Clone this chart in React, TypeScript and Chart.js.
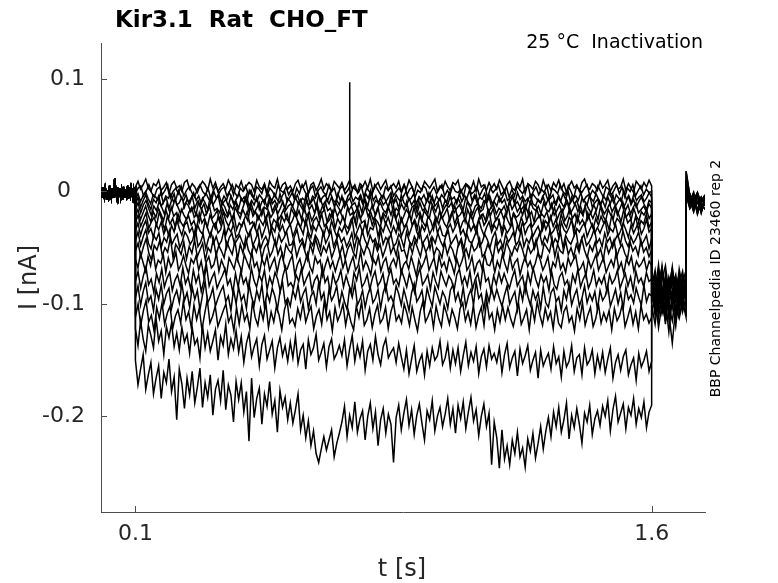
import { useEffect, useRef } from "react"
import { Chart, registerables } from "chart.js"

Chart.register(...registerables)

const PRE_DT = 0.0025
const STEP_START = 0.1
const STEP_END = 1.6
const TAIL_START = 1.6
const TAIL_DT = 0.01
const END_START = 1.7
const END_DT = 0.011

const xTicks = [0.1, 1.6]
const yTicks = [-0.2, -0.1, 0, 0.1]

// holding current before the step (pA), shared by all sweeps
const baseline = [2, -5, 4, -3, -6, 3, -1, -7, 1, -4, 5, -2, -6, 3, -5, 0, 12, 2, -4, 4, -6, -1, 3, -5, 1, -7, 4, -2, -5, 2, -3, 5, -6, 0, -4, 3, -2, -6, 2, -3, 0]

// current during the conditioning step 0.1-1.6 s (pA), one array per sweep, evenly sampled
const sweep01 = [
  4, 9, 2, 6, 11, 3, 0, 7, 5, 10, 1, 4, 8, -2, 6, 9, 3, 5, 0, 8,
  10, 2, 7, 4, -1, 5, 9, 6, 1, 11, 3, 8, 0, 4, 7, 2, 10, 5, -3, 6,
  3, 9, 1, 5, 8, 6, 0, 10, 4, 2, 7, -1, 9, 5, 3, 11, 1, 6, 8, 2,
  5, 0, 7, 10, 3, 4, 9, -2, 6, 8, 1, 5, 11, 2, 7, 4, 0, 9, 6, 3,
  8, 1, 5, 10, 2, 6, -1, 7, 4, 9, 3, 11, 0, 5, 8, 2, 6, 10, 1, 4,
  7, 3, 9, 0, 6, 2, 10, 5, -2, 8, 4, 1, 9, 6, 3, 7, 11, 0, 5, 2,
  9, 4, 1, 8, 6, 10, -1, 3, 7, 5, 2, 9, 0, 11, 4, 6, 1, 8, 3, 7,
  2, 10, 5, 0, 6, 9, 3, 1, 8, 4, 11, -2, 7, 5, 2, 9, 6, 0, 10, 3,
  6, 1, 8, 4, 10, 2, 7, -1, 5, 9, 3, 6, 0, 8, 11, 4, 2, 7, 5, 1,
  9, 3, 6, 10, 0, 5, 8, 2, 4, 11, 1, 7, 3, -1, 9, 6, 2, 8, 4, 10,
  5,
]
const sweep02 = [
  -2, 3, 5, -4, 0, 6, -1, -5, 2, 4, -3, 1, 6, -6, 0, 3, -2, 5, -4, 1,
  4, -1, -5, 2, 6, 0, -3, 3, -6, 1, 5, -2, 2, 4, -4, 0, 6, -1, -5, 3,
  0, 5, -3, 1, -6, 4, 2, -2, 6, -4, 3, 0, -5, 5, 1, -1, 4, -3, 2, -6,
  3, -2, 6, 0, -4, 2, 5, -5, 1, 4, -1, -3, 6, 0, 3, -6, 2, 5, -2, 1,
  -4, 4, 1, -1, 5, -5, 3, 0, -3, 6, 2, -2, -6, 4, 1, 5, -4, 0, 3, -1,
  6, -3, 2, 4, -5, 1, -1, 5, 3, -6, 0, 4, -2, 2, 6, -4, 1, -3, 5, 0,
  -1, 2, -5, 6, 3, -2, 0, 4, -4, 1, 5, -6, 3, -1, 2, 6, -3, 0, 4, -5,
  2, -4, 5, 1, -2, 3, 6, -5, 0, 4, -3, 2, -1, 5, -6, 3, 1, -2, 6, 0,
  -3, 5, 0, -6, 4, 2, -1, 3, 6, -4, 1, -2, 5, 0, -5, 4, 2, -3, 1, 6,
  -2, 4, -5, 3, 0, 6, -4, 1, 5, -3, 2, -1, 0,
]
const sweep03 = [
  -7, -2, -9, -4, 0, -6, -11, -3, -5, -8, -1, -10, -4, -6, -2, -9, -7, 1, -5, -8,
  -3, -10, -6, -1, -8, -4, -11, -5, -2, -7, -9, 0, -6, -3, -10, -4, -8, -1, -5, -11,
  -6, -2, -8, -5, -10, 1, -4, -7, -9, -3, -6, -11, -1, -5, -8, -2, -7, -10, -4, 0,
  -9, -5, -1, -7, -3, -10, -6, -8, -2, -11, -4, -6, 0, -9, -5, -3, -8, -1, -7, -10,
  -2, -8, -6, -11, -4, -1, -9, -5, -7, -3, -10, -2, -6, 1, -8, -4, -11, -5, -3, -9,
  -5, -1, -10, -3, -7, -9, -4, 0, -8, -6, -2, -11, -5, -7, -3, -9, -1, -6, -10, -4,
  -8, -3, -6, -10, -1, -7, -5, -11, -2, -9, -4, -6, 1, -8, -3, -10, -5, -7, -2, -9,
  -4, -11, -7, -2, -9, -5, 0, -8, -6, -3, -10, -1, -7, -4, -9, -6, -11, -2, -5, -8,
  -10, -4, -1, -8, -6, -3, -11, -5, -9, -2, -7, 0, -10, -6, -4, -8, -1, -9, -5, -3,
  -6, -9, -2, -7, -11, -4, -8, -1, -5, -10, -3, -6, -9, 1, -7, -4, -10, -2, -8, -5,
  -3, -9, -6, -1, -5,
]
const sweep04 = [
  -12, -5, -14, -8, -3, -11, -16, -7, -10, -4, -13, -9, -6, -15, -8, -2, -12, -10, -5, -14,
  -7, -11, -4, -15, -9, -13, -6, -10, -16, -5, -12, -8, -3, -14, -10, -7, -13, -4, -11, -9,
  -15, -6, -10, -3, -13, -8, -12, -5, -16, -9, -7, -14, -4, -11, -8, -13, -2, -10, -15, -6,
  -9, -13, -5, -11, -7, -15, -4, -12, -10, -6, -14, -3, -9, -16, -7, -11, -5, -13, -8, -12,
  -4, -14, -9, -6, -12, -10, -16, -5, -11, -7, -13, -3, -15, -8, -10, -6, -12, -9, -14, -4,
  -11, -7, -15, -3, -10, -13, -6, -12, -8, -16, -5, -9, -14, -7, -11, -4, -13, -10, -6, -15,
  -8, -12, -4, -14, -9, -6, -11, -16, -5, -10, -13, -7, -3, -12, -15, -8, -10, -5, -14, -9,
  -13, -5, -10, -7, -15, -11, -4, -12, -9, -14, -6, -16, -8, -3, -11, -13, -7, -10, -5, -12,
  -6, -15, -9, -12, -4, -10, -14, -7, -13, -5, -11, -8, -16, -6, -9, -12, -3, -14, -10, -7,
  -12, -8, -14, -5, -11, -3, -13, -9, -6, -15, -10, -4, -12, -7, -14, -9, -5, -11, -16, -8,
  -10,
]
const sweep05 = [
  -16, -10, -19, -12, -8, -15, -21, -13, -17, -9, -14, -20, -11, -18, -15, -7, -13, -19, -16, -10,
  -12, -18, -14, -21, -9, -16, -11, -20, -13, -8, -17, -15, -19, -10, -14, -21, -12, -16, -9, -18,
  -20, -13, -7, -17, -11, -19, -15, -10, -21, -14, -16, -8, -18, -12, -20, -15, -9, -17, -13, -11,
  -15, -21, -10, -14, -18, -8, -16, -12, -19, -11, -20, -13, -9, -17, -15, -21, -10, -14, -18, -12,
  -9, -17, -13, -20, -16, -11, -19, -7, -15, -18, -12, -21, -14, -10, -16, -19, -13, -8, -20, -15,
  -18, -11, -16, -9, -21, -14, -12, -19, -10, -17, -15, -20, -8, -13, -18, -11, -21, -16, -12, -14,
  -10, -19, -15, -12, -17, -21, -9, -14, -20, -13, -11, -18, -16, -7, -19, -14, -12, -20, -15, -17,
  -13, -20, -8, -16, -11, -18, -14, -21, -12, -19, -9, -15, -17, -13, -20, -10, -16, -18, -11, -21,
  -17, -12, -19, -14, -9, -20, -16, -11, -18, -13, -21, -10, -15, -19, -12, -17, -8, -14, -20, -16,
  -11, -18, -13, -21, -15, -9, -17, -12, -20, -14, -10, -19, -16, -13, -18, -11, -15,
]
const sweep06 = [
  -22, -16, -25, -19, -13, -21, -27, -18, -23, -15, -20, -26, -17, -24, -14, -22, -19, -27, -16, -21,
  -25, -18, -14, -23, -20, -27, -16, -22, -19, -13, -24, -21, -17, -26, -15, -20, -23, -18, -27, -14,
  -19, -24, -16, -21, -26, -13, -22, -18, -25, -20, -15, -27, -17, -23, -19, -14, -25, -21, -16, -24,
  -27, -15, -20, -23, -17, -25, -14, -22, -18, -26, -21, -13, -24, -19, -16, -27, -20, -23, -15, -22,
  -17, -23, -26, -14, -21, -19, -27, -16, -24, -20, -13, -22, -18, -25, -21, -15, -26, -19, -23, -14,
  -21, -13, -24, -18, -27, -22, -16, -20, -25, -14, -23, -19, -26, -17, -21, -24, -13, -20, -27, -18,
  -24, -20, -15, -26, -19, -13, -23, -21, -17, -27, -16, -22, -25, -18, -14, -24, -20, -26, -16, -21,
  -15, -26, -22, -17, -24, -20, -14, -27, -19, -23, -21, -16, -13, -25, -22, -18, -27, -15, -23, -20,
  -23, -18, -27, -21, -14, -25, -19, -16, -26, -22, -15, -24, -20, -27, -17, -21, -13, -25, -19, -24,
  -18, -25, -13, -22, -26, -16, -21, -24, -14, -20, -27, -17, -23, -19, -25, -15, -22, -26, -18, -21,
  -16, -24, -20,
]
const sweep07 = [
  -28, -21, -31, -25, -19, -33, -27, -23, -30, -18, -26, -34, -22, -29, -24, -32, -20, -27, -31, -25,
  -22, -30, -26, -34, -19, -28, -24, -32, -21, -27, -33, -23, -29, -18, -26, -31, -25, -20, -34, -28,
  -31, -24, -18, -29, -27, -33, -21, -26, -30, -23, -19, -32, -25, -28, -34, -22, -27, -20, -30, -26,
  -19, -27, -32, -24, -30, -21, -34, -26, -23, -29, -20, -31, -28, -25, -18, -33, -24, -29, -22, -30,
  -33, -25, -22, -31, -18, -28, -26, -34, -20, -30, -24, -27, -32, -21, -29, -23, -31, -19, -26, -34,
  -24, -32, -28, -20, -30, -25, -33, -19, -27, -31, -22, -26, -34, -23, -29, -21, -28, -32, -24, -18,
  -29, -22, -34, -27, -24, -31, -19, -28, -33, -25, -21, -30, -26, -18, -32, -27, -23, -29, -34, -20,
  -26, -31, -20, -25, -33, -23, -30, -27, -18, -32, -28, -24, -21, -34, -26, -29, -22, -31, -25, -33,
  -20, -28, -32, -23, -26, -34, -21, -29, -25, -31, -19, -27, -33, -24, -30, -22, -28, -26, -34, -21,
  -30, -24, -27, -33, -19, -28, -25, -31, -22, -34, -26, -29, -20, -32, -27,
]
const sweep08 = [
  -35, -28, -39, -31, -26, -37, -33, -41, -29, -34, -27, -38, -32, -40, -30, -36, -25, -33, -39, -30,
  -27, -36, -32, -41, -29, -35, -38, -26, -33, -40, -31, -28, -37, -34, -25, -39, -32, -36, -29, -41,
  -38, -31, -26, -35, -40, -33, -28, -37, -30, -41, -34, -27, -39, -32, -36, -25, -35, -30, -38, -33,
  -29, -40, -34, -27, -32, -38, -25, -36, -41, -31, -35, -28, -33, -39, -30, -37, -26, -34, -40, -32,
  -36, -30, -38, -33, -25, -41, -35, -29, -37, -27, -39, -32, -34, -26, -40, -31, -36, -28, -33, -38,
  -31, -37, -27, -40, -34, -29, -39, -32, -26, -36, -41, -30, -35, -28, -38, -33, -25, -37, -31, -39,
  -40, -33, -29, -36, -31, -26, -38, -34, -41, -28, -35, -30, -37, -25, -33, -39, -32, -27, -36, -30,
  -34, -26, -39, -31, -37, -33, -28, -41, -30, -36, -27, -38, -32, -29, -40, -35, -31, -38, -26, -34,
  -28, -38, -35, -30, -41, -27, -34, -37, -32, -25, -39, -33, -36, -31, -28, -40, -34, -29, -37, -32,
  -37, -31, -26, -39, -33, -36, -29, -40, -35, -28, -34, -41, -30, -37, -32, -27, -38, -33, -25, -36,
  -33,
]
const sweep09 = [
  -44, -36, -48, -40, -34, -46, -51, -39, -43, -37, -49, -41, -45, -35, -47, -42, -38, -50, -44, -36,
  -40, -47, -43, -33, -49, -45, -38, -51, -42, -36, -46, -40, -48, -44, -34, -50, -41, -37, -47, -43,
  -39, -45, -50, -41, -35, -48, -43, -37, -51, -44, -40, -46, -33, -42, -49, -38, -45, -41, -36, -48,
  -47, -40, -34, -45, -42, -50, -37, -44, -48, -39, -43, -51, -36, -46, -41, -35, -49, -43, -38, -45,
  -41, -49, -44, -37, -51, -40, -46, -35, -43, -48, -39, -45, -42, -50, -34, -47, -41, -44, -38, -49,
  -46, -38, -42, -50, -36, -44, -48, -40, -45, -33, -47, -43, -39, -51, -41, -46, -37, -44, -49, -40,
  -35, -47, -43, -39, -48, -42, -51, -37, -44, -46, -40, -34, -49, -45, -38, -43, -50, -41, -36, -47,
  -43, -50, -38, -45, -41, -36, -48, -44, -34, -49, -42, -46, -39, -51, -44, -37, -47, -40, -45, -35,
  -48, -42, -46, -36, -50, -39, -44, -47, -41, -35, -51, -43, -38, -48, -45, -40, -33, -46, -42, -49,
  -37, -45, -41, -50, -43, -38, -47, -35, -44, -49, -40, -46, -42, -36, -48, -44, -39, -51, -42,
]
const sweep10 = [
  -53, -46, -58, -49, -42, -55, -61, -48, -52, -44, -57, -50, -54, -41, -59, -47, -51, -56, -45, -60,
  -49, -55, -43, -58, -52, -46, -61, -50, -54, -42, -57, -48, -53, -59, -45, -51, -56, -44, -60, -47,
  -55, -41, -52, -57, -48, -54, -45, -60, -50, -46, -58, -53, -43, -56, -49, -61, -47, -52, -55, -44,
  -58, -50, -45, -53, -61, -47, -55, -42, -51, -57, -49, -54, -46, -59, -52, -44, -56, -48, -60, -51,
  -46, -54, -59, -43, -50, -56, -48, -52, -61, -45, -53, -47, -58, -51, -42, -55, -49, -57, -44, -53,
  -52, -60, -47, -55, -44, -51, -58, -46, -54, -49, -41, -57, -50, -53, -59, -45, -56, -48, -52, -61,
  -48, -43, -56, -51, -59, -46, -53, -50, -42, -58, -55, -47, -52, -60, -44, -54, -49, -57, -45, -51,
  -57, -49, -53, -45, -52, -61, -48, -55, -51, -43, -56, -59, -46, -50, -54, -42, -58, -47, -53, -55,
  -44, -56, -50, -58, -47, -54, -42, -52, -59, -48, -53, -45, -57, -51, -61, -46, -55, -49, -43, -58,
  -51, -47, -55, -60, -45, -53, -49, -57, -43, -54, -50, -58, -52,
]
const sweep11 = [
  -60, -68, -55, -63, -71, -58, -66, -53, -69, -61, -64, -56, -72, -59, -67, -62, -54, -70, -65, -57,
  -66, -73, -60, -64, -57, -70, -62, -75, -63, -58, -68, -65, -55, -71, -61, -67, -74, -59, -64, -69,
  -58, -65, -71, -56, -62, -68, -54, -67, -63, -73, -60, -66, -57, -70, -64, -59, -72, -61, -55, -68,
  -69, -62, -57, -74, -65, -60, -70, -63, -55, -67, -72, -58, -64, -61, -75, -66, -59, -68, -62, -71,
  -63, -56, -68, -61, -72, -64, -58, -70, -66, -53, -69, -62, -67, -74, -60, -65, -57, -71, -63, -59,
  -71, -64, -60, -67, -55, -73, -65, -62, -69, -58, -66, -75, -61, -68, -63, -56, -70, -64, -59, -72,
  -57, -67, -63, -71, -59, -65, -73, -60, -68, -62, -54, -70, -66, -58, -72, -64, -61, -69, -56, -65,
  -66, -59, -72, -62, -68, -56, -64, -71, -57, -69, -63, -60, -74, -65, -58, -67, -62, -70, -64, -55,
  -61, -70, -65, -58, -73, -63, -67, -55, -69, -64, -72, -59, -66, -61, -57, -71, -68, -63, -75, -60,
  -68, -62, -56, -70, -64, -59, -72, -66, -61, -67, -54, -69, -63, -73, -60, -65, -58, -71, -62, -67,
  -64, -59, -70, -62, -66,
]
const sweep12 = [
  -80, -71, -86, -75, -67, -83, -78, -90, -73, -81, -69, -85, -77, -72, -88, -79, -74, -84, -68, -82,
  -76, -87, -70, -81, -74, -89, -79, -66, -84, -77, -72, -86, -80, -75, -69, -83, -78, -90, -73, -85,
  -71, -82, -77, -88, -68, -79, -85, -74, -80, -70, -87, -76, -83, -72, -78, -89, -75, -67, -84, -81,
  -86, -74, -80, -69, -83, -77, -72, -88, -79, -75, -84, -67, -81, -76, -90, -73, -82, -78, -70, -85,
  -75, -83, -89, -72, -79, -68, -85, -81, -74, -87, -77, -71, -84, -80, -73, -88, -76, -69, -82, -78,
  -84, -70, -77, -85, -73, -81, -90, -76, -68, -83, -79, -74, -87, -72, -80, -86, -71, -78, -84, -75,
  -79, -88, -74, -69, -82, -76, -84, -71, -87, -78, -73, -85, -66, -80, -77, -89, -75, -83, -72, -81,
  -73, -80, -86, -77, -70, -84, -79, -75, -89, -72, -82, -68, -78, -85, -74, -81, -76, -88, -71, -83,
  -87, -76, -72, -83, -79, -90, -74, -81, -69, -85, -78, -73, -86, -80, -70, -84, -77, -82, -75, -89,
  -74, -82, -78, -70, -86, -79, -73, -84, -76, -88, -71, -81, -77, -85, -72, -80, -78,
]
const sweep13 = [
  -95, -84, -101, -89, -81, -98, -93, -106, -87, -96, -83, -100, -91, -86, -104, -94, -88, -99, -82, -97,
  -90, -103, -85, -96, -88, -105, -92, -80, -99, -94, -86, -102, -95, -89, -84, -98, -93, -106, -87, -100,
  -85, -97, -92, -104, -82, -94, -101, -88, -96, -83, -103, -90, -98, -86, -93, -105, -89, -81, -99, -95,
  -102, -88, -95, -83, -98, -91, -86, -104, -93, -89, -100, -81, -96, -90, -106, -87, -97, -92, -84, -101,
  -89, -98, -105, -86, -94, -82, -101, -96, -88, -103, -92, -85, -99, -95, -87, -104, -90, -83, -97, -93,
  -99, -84, -91, -101, -87, -96, -106, -90, -82, -98, -94, -88, -103, -86, -95, -102, -85, -92, -100, -89,
  -94, -104, -88, -83, -97, -90, -100, -85, -103, -93, -87, -101, -80, -95, -91, -105, -89, -98, -86, -96,
  -87, -95, -102, -92, -84, -100, -94, -89, -105, -86, -97, -82, -93, -101, -88, -96, -90, -104, -85, -99,
  -103, -90, -86, -98, -94, -106, -88, -96, -83, -101, -93, -87, -102, -95, -84, -99, -91, -97, -89, -105,
  -88, -97, -93, -84, -102, -95, -87, -100, -90, -104, -85, -96, -92, -99, -86, -94, -101, -83, -98, -91,
  -93,
]
const sweep14 = [
  -112, -100, -119, -106, -97, -116, -110, -124, -103, -113, -99, -118, -108, -102, -122, -111, -105, -117, -98, -114,
  -107, -121, -101, -114, -104, -123, -109, -96, -117, -111, -102, -120, -113, -106, -100, -116, -110, -124, -103, -118,
  -101, -115, -109, -122, -98, -112, -119, -104, -114, -99, -121, -107, -116, -102, -110, -123, -105, -97, -117, -113,
  -120, -104, -113, -99, -116, -108, -102, -122, -111, -105, -118, -97, -114, -107, -124, -103, -115, -109, -100, -119,
  -106, -116, -123, -102, -112, -98, -119, -114, -104, -121, -109, -101, -117, -113, -103, -122, -107, -99, -115, -110,
  -117, -100, -108, -119, -103, -114, -124, -107, -98, -116, -111, -104, -121, -102, -113, -120, -101, -109, -118, -105,
  -112, -122, -104, -99, -115, -107, -118, -101, -121, -110, -103, -119, -96, -113, -108, -123, -105, -116, -102, -114,
  -103, -113, -120, -109, -100, -118, -112, -105, -123, -102, -115, -98, -110, -119, -104, -114, -107, -122, -101, -117,
  -121, -107, -102, -116, -111, -124, -104, -114, -99, -119, -110, -103, -120, -113, -100, -117, -108, -115, -106, -123,
  -104, -115, -110, -100, -120, -112, -103, -118, -107, -122, -101, -114, -109, -117, -112,
]
const sweep15 = [
  -122, -137, -115, -131, -142, -119, -128, -139, -113, -133, -124, -145, -120, -130, -117, -138, -126, -141, -121, -134,
  -127, -144, -121, -136, -131, -148, -119, -139, -126, -142, -133, -123, -150, -129, -137, -118, -145, -131, -140, -124,
  -143, -129, -152, -135, -126, -147, -138, -131, -155, -136, -128, -149, -141, -133, -157, -139, -130, -146, -137, -151,
  -134, -148, -129, -153, -141, -136, -158, -132, -145, -139, -127, -150, -143, -135, -156, -138, -131, -149, -144, -137,
  -146, -132, -155, -140, -128, -151, -137, -147, -133, -159, -142, -136, -150, -129, -145, -154, -138, -131, -148, -143,
  -139, -152, -135, -147, -158, -141, -162, -149, -137, -160, -151, -145, -163, -142, -155, -139, -150, -146, -133, -154,
  -148, -136, -157, -141, -153, -139, -160, -146, -134, -155, -143, -151, -138, -162, -147, -140, -156, -137, -149, -144,
  -152, -139, -161, -145, -135, -157, -148, -142, -164, -140, -153, -146, -137, -159, -150, -143, -166, -141, -155, -149,
  -144, -158, -138, -153, -147, -165, -142, -156, -151, -137, -160, -148, -145, -163, -139, -154, -150, -141, -162, -146,
  -157, -143, -161, -149, -139, -166, -152, -145, -159, -147, -141, -163, -154, -148, -168, -144, -156, -150, -142, -160,
  -151,
]
const sweep16 = [
  -150, -172, -158, -145, -176, -163, -152, -180, -166, -155, -184, -161, -170, -149, -178, -165, -203, -158, -171, -193,
  -166, -181, -160, -188, -174, -157, -192, -170, -183, -163, -199, -176, -168, -186, -159, -194, -172, -181, -205, -169,
  -185, -170, -196, -178, -222, -166, -201, -184, -175, -207, -180, -191, -169, -198, -186, -214, -177, -192, -183, -203,
  -188, -206, -194, -180, -212, -199, -219, -204, -226, -213, -233, -241, -229, -218, -230, -221, -212, -236, -224, -215,
  -205, -191, -218, -199, -210, -187, -214, -202, -195, -221, -200, -188, -211, -196, -226, -203, -193, -215, -198, -207,
  -241, -201, -190, -212, -197, -185, -208, -194, -216, -199, -189, -206, -221, -195, -203, -186, -213, -200, -192, -209,
  -198, -184, -207, -193, -215, -190, -202, -187, -211, -196, -183, -204, -194, -217, -200, -189, -209, -197, -243, -205,
  -219, -246, -212, -238, -226, -243, -221, -233, -214, -236, -228, -245, -220, -231, -215, -237, -224, -209, -229, -213,
  -201, -218, -196, -209, -192, -214, -203, -188, -220, -199, -210, -193, -207, -224, -197, -205, -190, -216, -202, -195,
  -208, -191, -200, -186, -213, -194, -182, -205, -197, -189, -211, -192, -199, -184, -207, -193, -201, -187, -210, -196,
  -190,
]

const stepSweeps = [sweep01, sweep02, sweep03, sweep04, sweep05, sweep06, sweep07, sweep08, sweep09, sweep10, sweep11, sweep12, sweep13, sweep14, sweep15, sweep16]

// short artefact on sweep 2 during the step (s, pA)
const spikeTimes = [0.7218, 0.7224, 0.723]
const spikeValues = [4, 97, 2]

// current during the test pulse 1.6-1.7 s (pA), one row per sweep
const tailValues = [
  [-72, -88, -65, -95, -78, -84, -69, -92, -76, -81, -70],
  [-85, -70, -97, -79, -66, -90, -83, -74, -99, -77, -88],
  [-78, -93, -81, -68, -101, -87, -75, -96, -82, -71, -94],
  [-90, -76, -84, -104, -73, -92, -80, -98, -69, -86, -79],
  [-68, -95, -77, -89, -82, -106, -71, -87, -93, -75, -84],
  [-94, -81, -99, -72, -88, -79, -103, -85, -74, -97, -89],
  [-80, -102, -70, -91, -97, -76, -86, -108, -79, -92, -73],
  [-87, -74, -93, -84, -110, -90, -67, -95, -88, -101, -83],
  [-76, -97, -89, -66, -94, -83, -100, -78, -105, -82, -91],
  [-99, -83, -107, -91, -78, -96, -88, -112, -81, -94, -86],
  [-83, -106, -75, -98, -86, -113, -92, -79, -97, -104, -77],
  [-92, -79, -101, -87, -118, -81, -95, -89, -108, -85, -99],
  [-88, -110, -84, -96, -80, -102, -115, -91, -83, -107, -94],
  [-97, -85, -112, -93, -105, -88, -99, -120, -90, -96, -102],
  [-101, -118, -92, -109, -97, -125, -95, -104, -113, -99, -108],
  [-106, -94, -121, -100, -115, -108, -135, -102, -110, -98, -112],
]

// current after the test pulse (pA)
const endValues = [
  [18, -4, -12, -2, -15, -8],
  [10, -9, -1, -17, -6, -11],
  [4, -14, -6, -3, -19, -7],
  [2, -2, -16, -10, -5, -13],
  [0, -11, -5, -20, -9, -3],
  [-1, -7, -18, -4, -13, -10],
  [-3, -15, -8, -1, -11, -16],
  [-2, -5, -13, -9, -18, -4],
]

const FONT = "'DejaVu Sans', sans-serif"
const AXIS_COLOR = "#4d4d4d"
const TEXT_COLOR = "#262626"

function buildSweep(index: number) {
  const pts: { x: number; y: number }[] = []
  baseline.forEach((v, i) => pts.push({ x: i * PRE_DT, y: v / 1000 }))
  const step = stepSweeps[index]
  const dt = (STEP_END - STEP_START) / (step.length - 1)
  step.forEach((v, i) => pts.push({ x: STEP_START + i * dt, y: v / 1000 }))
  if (index === 1) {
    spikeTimes.forEach((t, k) => pts.push({ x: t, y: spikeValues[k] / 1000 }))
    pts.sort((a, b) => a.x - b.x)
  }
  tailValues[index].forEach((v, i) => pts.push({ x: TAIL_START + i * TAIL_DT, y: v / 1000 }))
  endValues[index % endValues.length].forEach((v, i) => pts.push({ x: END_START + i * END_DT, y: v / 1000 }))
  return pts
}

const textPlugin = {
  id: "figureText",
  afterDraw(chart: Chart) {
    const { ctx, chartArea } = chart
    const xs = chart.scales.x
    const ys = chart.scales.y
    ctx.save()

    // inward tick marks
    ctx.strokeStyle = AXIS_COLOR
    ctx.lineWidth = 1
    ctx.beginPath()
    xs.ticks.forEach((t) => {
      const px = Math.round(xs.getPixelForValue(t.value)) + 0.5
      ctx.moveTo(px, chartArea.bottom)
      ctx.lineTo(px, chartArea.bottom - 6)
    })
    ys.ticks.forEach((t) => {
      const py = Math.round(ys.getPixelForValue(t.value)) + 0.5
      ctx.moveTo(chartArea.left, py)
      ctx.lineTo(chartArea.left + 6, py)
    })
    ctx.stroke()

    ctx.fillStyle = "#000"
    ctx.textBaseline = "alphabetic"
    ctx.font = `bold 23px ${FONT}`
    ctx.textAlign = "left"
    ctx.fillText("Kir3.1  Rat  CHO_FT", 115, 27)

    ctx.font = `19px ${FONT}`
    ctx.textAlign = "right"
    ctx.fillText("25 °C  Inactivation", 703, 48)

    ctx.save()
    ctx.translate(720, 278.5)
    ctx.rotate(-Math.PI / 2)
    ctx.font = `14px ${FONT}`
    ctx.textAlign = "center"
    ctx.fillText("BBP Channelpedia ID 23460 rep 2", 0, 0)
    ctx.restore()

    ctx.fillStyle = TEXT_COLOR
    ctx.font = `24px ${FONT}`
    ctx.textAlign = "center"
    ctx.fillText("t [s]", 402, 576)

    ctx.save()
    ctx.translate(36, 277.5)
    ctx.rotate(-Math.PI / 2)
    ctx.fillText("I [nA]", 0, 0)
    ctx.restore()

    ctx.restore()
  },
}

export default function App() {
  const canvasRef = useRef<HTMLCanvasElement>(null)
  const chartRef = useRef<Chart | null>(null)

  useEffect(() => {
    document.body.style.margin = "0"
    if (!canvasRef.current) return
    if (chartRef.current) chartRef.current.destroy()
    const ctx = canvasRef.current.getContext("2d")
    if (!ctx) return

    chartRef.current = new Chart(ctx, {
      type: "line",
      data: {
        datasets: stepSweeps.map((_, i) => ({
          data: buildSweep(i),
          borderColor: "#000",
          borderWidth: 1.5,
          pointRadius: 0,
          tension: 0,
          fill: false,
        })),
      },
      options: {
        responsive: false,
        animation: false,
        layout: { padding: { top: 43, right: 73, left: 0, bottom: 0 } },
        plugins: {
          legend: { display: false },
          tooltip: { enabled: false },
          title: { display: false },
        },
        scales: {
          x: {
            type: "linear",
            min: 0,
            max: 1.755,
            afterBuildTicks: (scale) => {
              scale.ticks = xTicks.map((v) => ({ value: v }))
            },
            afterFit: (scale) => {
              scale.height = 71
            },
            grid: { display: false, drawTicks: false },
            border: { display: true, color: AXIS_COLOR, width: 1 },
            ticks: {
              color: TEXT_COLOR,
              font: { family: FONT, size: 22 },
              padding: 9,
              maxRotation: 0,
              autoSkip: false,
              callback: (v) => String(v),
            },
          },
          y: {
            type: "linear",
            min: -0.285,
            max: 0.132,
            afterBuildTicks: (scale) => {
              scale.ticks = yTicks.map((v) => ({ value: v }))
            },
            afterFit: (scale) => {
              scale.width = 101
            },
            grid: { display: false, drawTicks: false },
            border: { display: true, color: AXIS_COLOR, width: 1 },
            ticks: {
              color: TEXT_COLOR,
              font: { family: FONT, size: 22 },
              padding: 16,
              autoSkip: false,
              callback: (v) => (Number(v) === 0 ? "0\u2007" : String(v)),
            },
          },
        },
      },
      plugins: [textPlugin],
    })

    return () => {
      if (chartRef.current) {
        chartRef.current.destroy()
        chartRef.current = null
      }
    }
  }, [])

  return (
    <div style={{ width: 778, height: 583, background: "#fff" }}>
      <canvas ref={canvasRef} width={778} height={583} />
    </div>
  )
}
